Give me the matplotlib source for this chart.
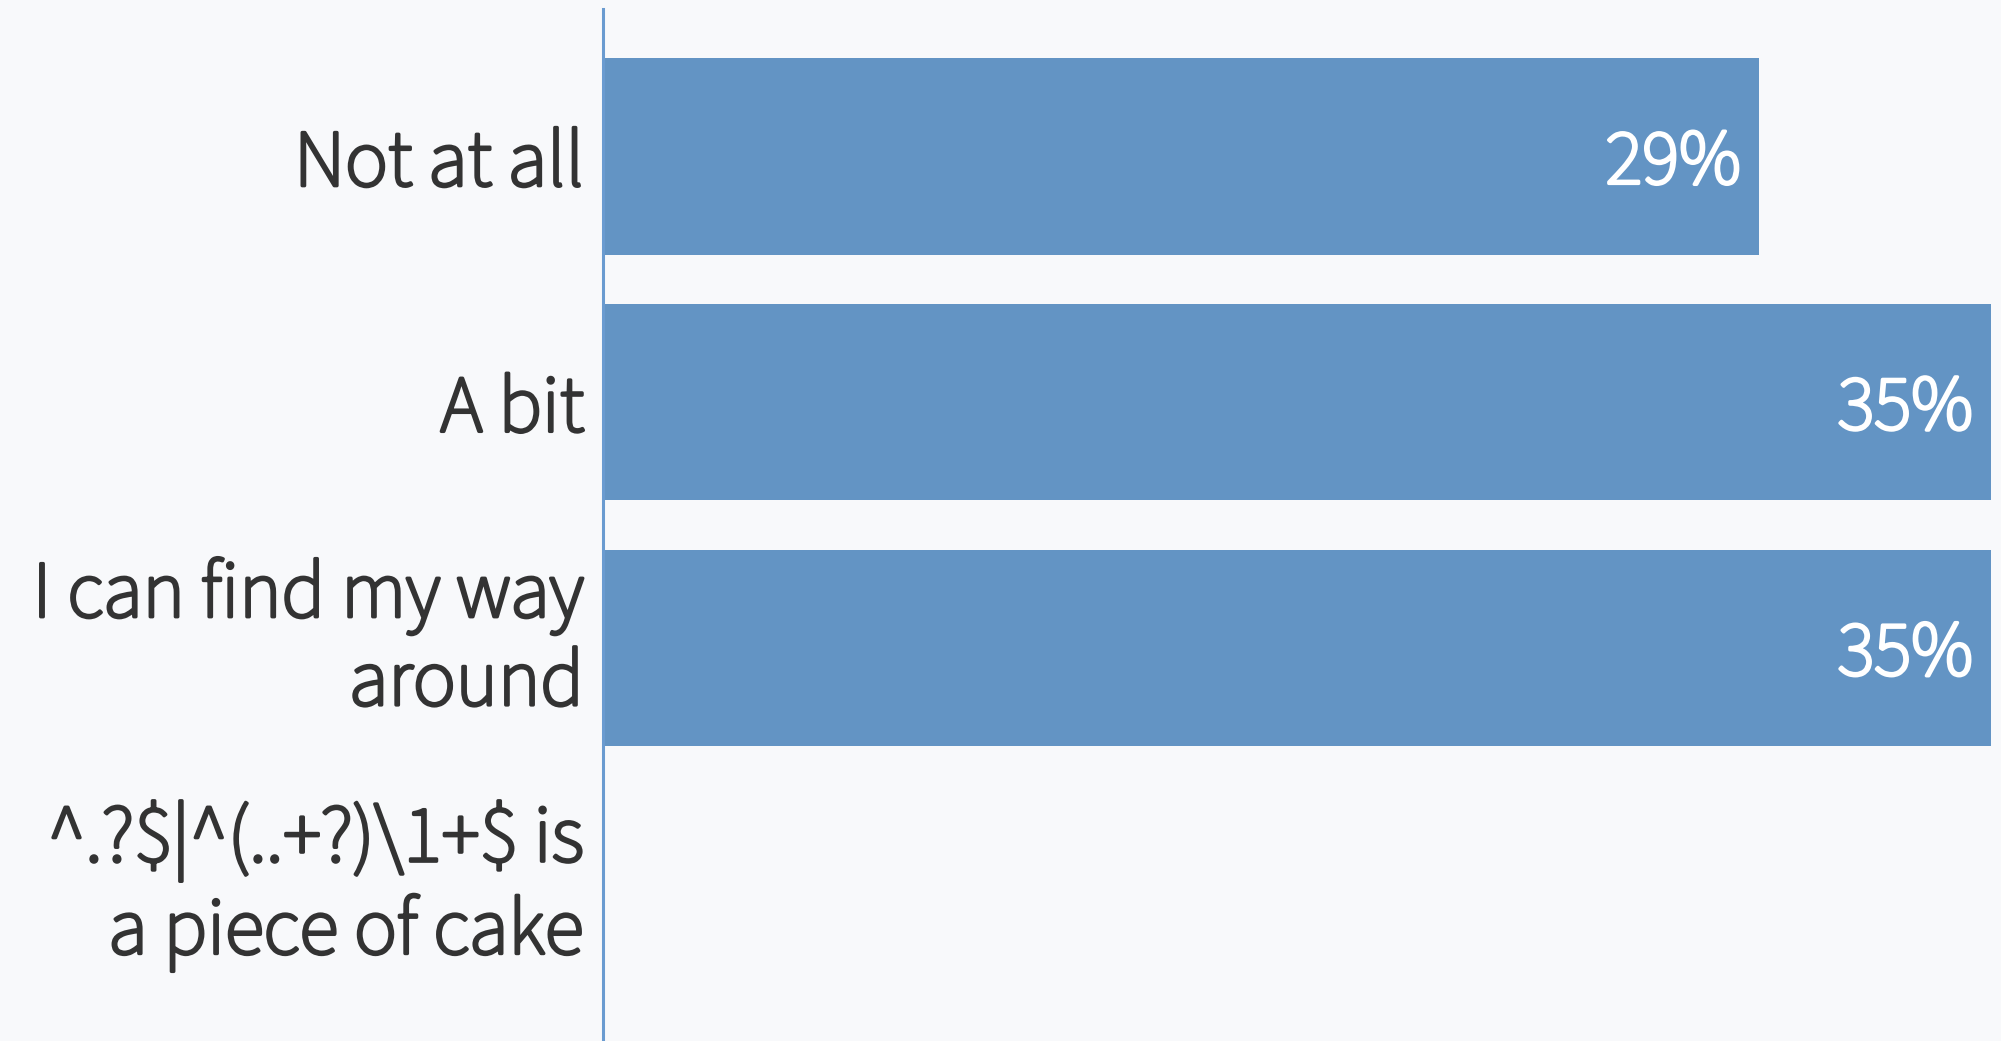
import matplotlib.pyplot as plt
import matplotlib.patheffects as pe
from matplotlib import font_manager

categories = ["Not at all", "A bit", "I can find my way\naround",
              "^.?$|^(..+?)\\1+$ is\na piece of cake"]
values = [29.4, 35.3, 35.3, 0.0]
value_labels = ["29%", "35%", "35%", ""]

# prefer Source Sans, fall back to Lato
fp = font_manager.FontProperties(family="Lato")
thicken = 0
for cand in ["Source Sans Pro", "Source Sans 3"]:
    faces = [f for f in font_manager.fontManager.ttflist
             if f.name == cand and f.style == "normal"]
    if faces:
        regular = [f for f in faces if "regular" in f.fname.lower()]
        pick = regular[0] if regular else faces[0]
        fp = font_manager.FontProperties(fname=pick.fname)
        thicken = 2.4  # installed face renders light; stroke to look regular
        break
plt.rcParams['text.parse_math'] = False

bg = "#f8f9fb"
bar_color = "#6394c4"
text_color = "#333333"


def bolden(color):
    if not thicken:
        return []
    return [pe.Stroke(linewidth=thicken, foreground=color), pe.Normal()]


fig = plt.figure(figsize=(20.01, 10.41), dpi=100, facecolor=bg)
ax = fig.add_axes([603 / 2001, 0, (1991 - 603) / 2001, 1 - 9 / 1041])
ax.set_facecolor(bg)

y = list(range(len(categories)))
ax.barh(y, values, height=0.8, color=bar_color)
ax.set_xlim(0, max(values))
ax.set_ylim(len(categories) - 0.4, -0.6)

for yi, v, lab in zip(y, values, value_labels):
    if lab:
        ax.annotate(lab, xy=(v, yi), xytext=(-18, -8), textcoords="offset pixels",
                    ha="right", va="center", color="white",
                    fontproperties=fp, fontsize=56, path_effects=bolden("white"))

# category labels, wrapped ones nudged up a little like the original
for yi, cat in zip(y, categories):
    dy = 23 if "\n" in cat else 0
    ax.annotate(cat, xy=(0, yi), xycoords=("axes fraction", "data"),
                xytext=(-19, dy), textcoords="offset pixels",
                ha="right", va="center_baseline", multialignment="right",
                color=text_color, linespacing=1.2,
                fontproperties=fp, fontsize=58, path_effects=bolden(text_color),
                annotation_clip=False)

ax.set_yticks([])
ax.set_xticks([])
for s in ["top", "right", "bottom"]:
    ax.spines[s].set_visible(False)
ax.spines["left"].set_color("#6a9bd0")
ax.spines["left"].set_linewidth(2.2)

fig.savefig("out.png", dpi=100, facecolor=bg)
